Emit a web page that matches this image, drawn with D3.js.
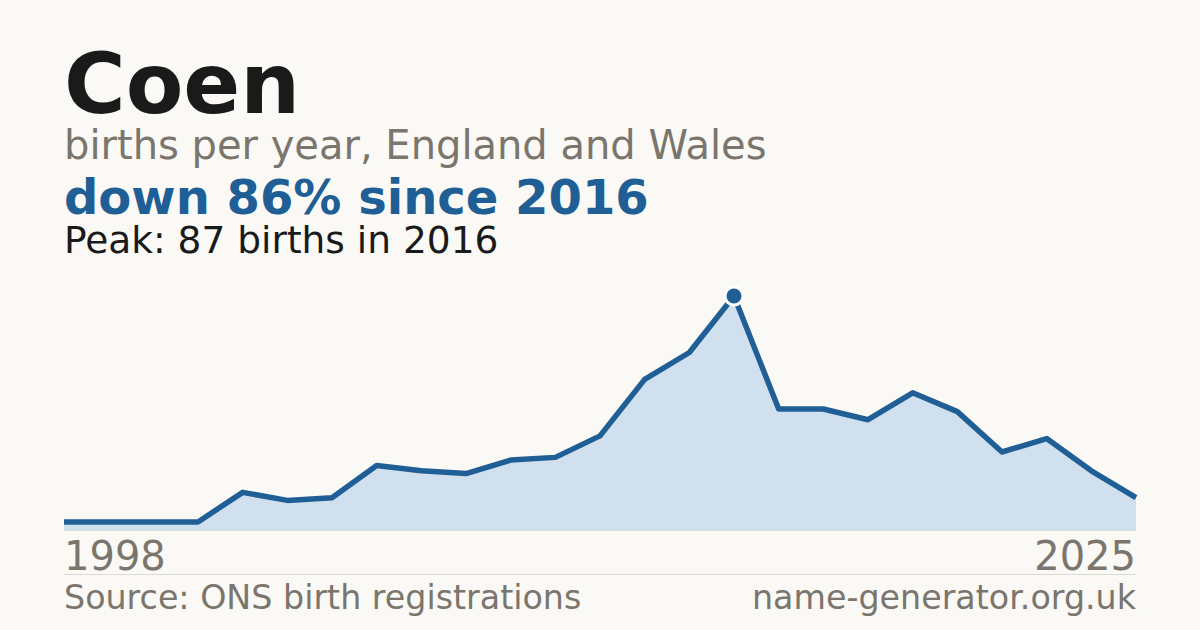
<!DOCTYPE html>
<html>
<head>
<meta charset="utf-8">
<script src="https://cdn.jsdelivr.net/npm/d3@7"></script>
<style>
  html, body { margin: 0; padding: 0; background: #faf9f5; }
  svg { display: block; font-family: "DejaVu Sans", sans-serif; }
</style>
</head>
<body>
<div id="chart"></div>
<script>
// years on the x axis (data points are evenly spaced)
var years = [1998, 2002, 2003, 2004, 2005, 2006, 2007, 2008, 2009, 2010, 2011, 2012, 2013,
             2014, 2015, 2016, 2017, 2018, 2019, 2020, 2021, 2022, 2023, 2024, 2025];
// births per year
var births = [3, 3, 3, 3, 14, 11, 12, 24, 22, 21, 26, 27, 35,
              56, 66, 87, 45, 45, 41, 51, 44, 29, 34, 22, 12];
var tickLabels = ["1998", "2025"];

var babyName = "Coen";
var subtitle = "births per year, England and Wales";
var source = "Source: ONS birth registrations";
var site = "name-generator.org.uk";

var W = 1200, H = 630;
var plotLeft = 64, plotRight = 1136, plotTop = 296, plotBottom = 530;

var blue = "#1f5f96", grey = "#7a756d";

var data = years.map(function(y, i) { return {year: y, births: births[i]}; });

var peak = data.reduce(function(a, b) { return b.births > a.births ? b : a; });
var last = data[data.length - 1];
var change = Math.round((1 - last.births / peak.births) * 100);

var svg = d3.select("#chart").append("svg")
  .attr("width", W)
  .attr("height", H);

svg.append("rect").attr("width", W).attr("height", H).attr("fill", "#faf9f5");

// headings
svg.append("text").attr("x", plotLeft).attr("y", 113)
  .attr("font-size", 84).attr("font-weight", "bold").attr("fill", "#1a1a1a")
  .text(babyName);
svg.append("text").attr("x", plotLeft).attr("y", 159)
  .attr("font-size", 40).attr("fill", grey)
  .text(subtitle);
svg.append("text").attr("x", plotLeft).attr("y", 214)
  .attr("font-size", 48).attr("font-weight", "bold").attr("fill", blue)
  .text("down " + change + "% since " + peak.year);
svg.append("text").attr("x", plotLeft).attr("y", 253)
  .attr("font-size", 37.5).attr("fill", "#1a1a1a")
  .text("Peak: " + peak.births + " births in " + peak.year);

// scales
var x = d3.scalePoint().domain(years).range([plotLeft, plotRight]);
var y = d3.scaleLinear().domain([0, peak.births]).range([plotBottom, plotTop]);

// baseline
svg.append("line")
  .attr("x1", plotLeft).attr("x2", plotRight)
  .attr("y1", plotBottom + 0.5).attr("y2", plotBottom + 0.5)
  .attr("stroke", "#dcdad4").attr("stroke-width", 1);

// area under the line
svg.append("path")
  .datum(data)
  .attr("fill", "#d0e0ef")
  .attr("d", d3.area()
    .x(function(d) { return x(d.year); })
    .y0(y(0))
    .y1(function(d) { return y(d.births); }));

// the line
svg.append("path")
  .datum(data)
  .attr("fill", "none")
  .attr("stroke", blue)
  .attr("stroke-width", 5.5)
  .attr("stroke-linejoin", "round")
  .attr("d", d3.line()
    .x(function(d) { return x(d.year); })
    .y(function(d) { return y(d.births); }));

// peak marker
svg.append("circle")
  .attr("cx", x(peak.year)).attr("cy", y(peak.births))
  .attr("r", 9)
  .attr("fill", blue)
  .attr("stroke", "#ffffff").attr("stroke-width", 3);

// first / last year labels
svg.append("text").attr("x", plotLeft).attr("y", 570)
  .attr("font-size", 40).attr("fill", grey)
  .text(tickLabels[0]);
svg.append("text").attr("x", plotRight).attr("y", 570)
  .attr("font-size", 40).attr("fill", grey).attr("text-anchor", "end")
  .text(tickLabels[1]);

// divider
svg.append("line")
  .attr("x1", plotLeft).attr("x2", plotRight)
  .attr("y1", 574.5).attr("y2", 574.5)
  .attr("stroke", "#dcdad4").attr("stroke-width", 1);

// footer
svg.append("text").attr("x", plotLeft).attr("y", 609)
  .attr("font-size", 33.3).attr("fill", grey)
  .text(source);
svg.append("text").attr("x", plotRight).attr("y", 609)
  .attr("font-size", 33.3).attr("fill", grey).attr("text-anchor", "end")
  .text(site);
</script>
</body>
</html>
